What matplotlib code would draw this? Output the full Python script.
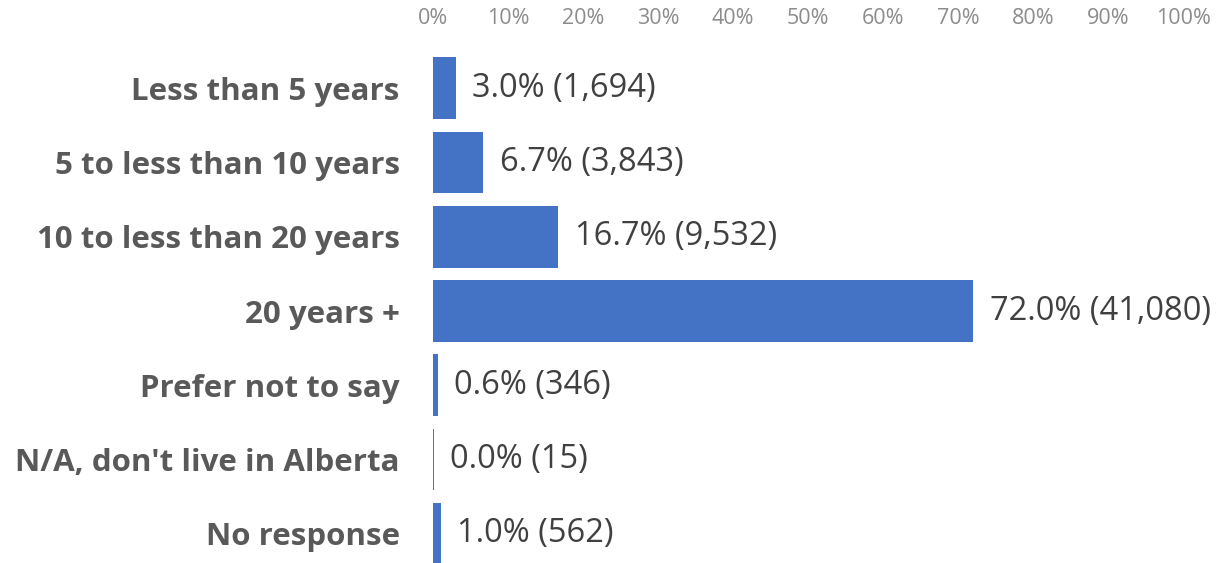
import matplotlib.pyplot as plt
from matplotlib.ticker import PercentFormatter

categories = ['Less than 5 years', '5 to less than 10 years', '10 to less than 20 years',
              '20 years +', 'Prefer not to say', "N/A, don't live in Alberta", 'No response']
percent = [3.0, 6.7, 16.7, 72.0, 0.6, 0.0, 1.0]
counts = [1694, 3843, 9532, 41080, 346, 15, 562]
ticks = list(range(0, 101, 10))

plt.rcParams['font.family'] = ['Open Sans', 'DejaVu Sans']

fig = plt.figure(figsize=(12.3, 5.63), dpi=100)
ax = fig.add_axes([433 / 1230, -0.0142, 750 / 1230, 0.9236])

y = list(range(len(categories)))
bars = ax.barh(y, percent, height=0.83, color='#4472C4')
# the 0.0% bar still shows a thin line in the original
ax.barh(5, 0.15, height=0.83, color='#4472C4')

for yi, p, c in zip(y, percent, counts):
    ax.annotate(f'{p:.1f}% ({c:,})', (p, yi), xytext=(12, 0), textcoords='offset points',
                va='center', ha='left', fontsize=23.5, color='#404040')

ax.set_xlim(0, 100)
ax.set_ylim(6.5, -0.5)
ax.set_xticks(ticks)
ax.xaxis.set_major_formatter(PercentFormatter(decimals=0))
ax.xaxis.tick_top()
ax.tick_params(axis='x', length=0, pad=16, labelsize=15.5, labelcolor='#8c8c8c')
ax.set_yticks(y)
ax.set_yticklabels(categories, fontsize=22.5, fontweight='bold', color='#595959')
ax.tick_params(axis='y', length=0, pad=24)
for s in ax.spines.values():
    s.set_visible(False)

fig.savefig('out.png', dpi=100)
